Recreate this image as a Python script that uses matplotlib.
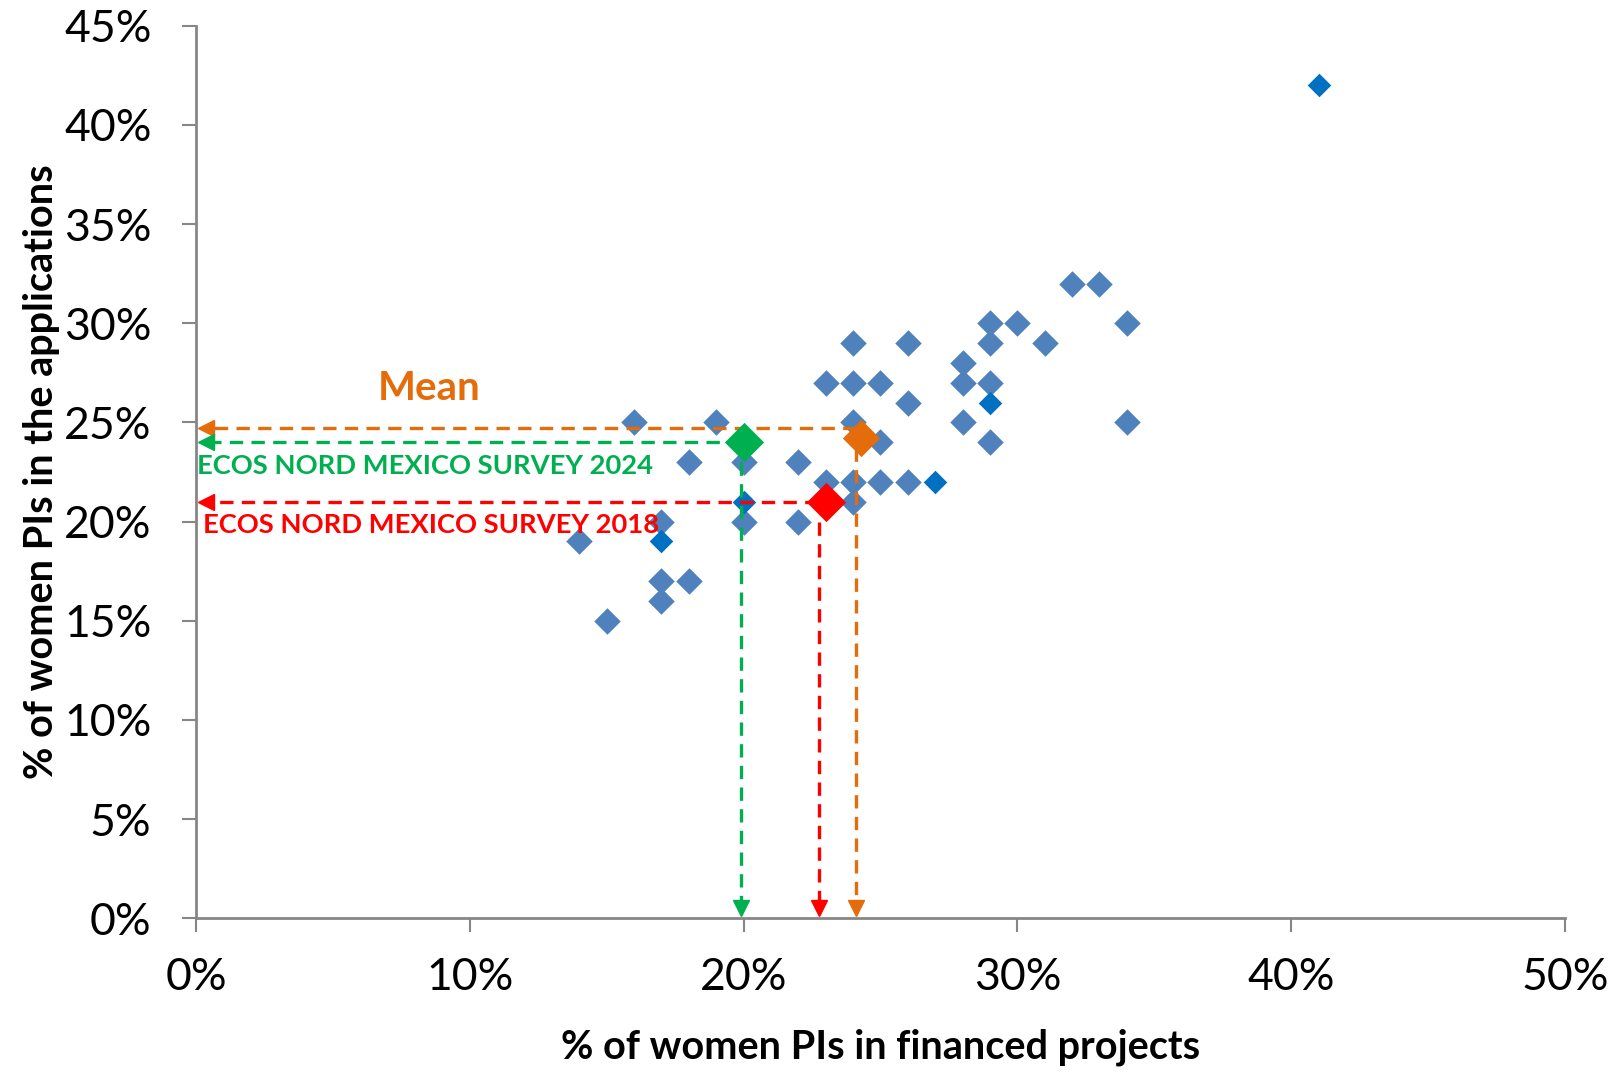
import numpy as np
import matplotlib
matplotlib.use("Agg")
import matplotlib.pyplot as plt
from matplotlib.ticker import FuncFormatter

plt.rcParams['font.family'] = ['Lato', 'DejaVu Sans']

# % women PIs: financed projects (x) vs applications (y)
fin_x = [34, 34, 32, 33, 29, 30, 29, 31, 28, 28, 29, 28, 29, 24, 26, 23, 24, 25, 26,
         24, 25, 16, 19, 18, 20, 22, 20, 22, 23, 24, 25, 26, 24, 17, 14, 17, 18, 17, 15]
app_y = [30, 25, 32, 32, 30, 30, 29, 29, 28, 27, 27, 25, 24, 29, 29, 27, 27, 27, 26,
         25, 24, 25, 25, 23, 23, 23, 20, 20, 22, 22, 22, 22, 21, 20, 19, 17, 17, 16, 15]

# second series (darker blue)
fin_x2 = [41, 29, 20, 27, 17]
app_y2 = [42, 26, 21, 22, 19]

# highlighted points
mean_pt = (24.3, 24.2)
survey_2024 = (20.0, 24.0)
survey_2018 = (23.0, 21.0)
mean_lines = (24.1, 24.7)      # x of vertical, y of horizontal guide
s2024_lines = (19.9, 24.0)
s2018_lines = (22.75, 21.0)

xticks = [0, 10, 20, 30, 40, 50]
yticks = [0, 5, 10, 15, 20, 25, 30, 35, 40, 45]

BLUE = '#4F81BD'
DARK = '#0070C0'
ORANGE = '#E46C0A'
GREEN = '#00B050'
RED = '#FF0000'
AXC = '#868686'

fig = plt.figure(figsize=(16.2, 10.74), dpi=100)
ax = fig.add_axes([0.121, 0.145, 0.845, 0.831])

ax.scatter(fin_x, app_y, marker='D', s=13.5**2, color=BLUE, linewidths=0, zorder=3)
ax.scatter(fin_x2, app_y2, marker='D', s=12**2, color=DARK, linewidths=0, zorder=3)


def guide(xv, yv, x_end, color):
    # horizontal dashed arrow to the y axis, vertical dashed arrow to the x axis
    ax.plot([x_end, 0.45], [yv, yv], ls='--', lw=2.4, color=color, dashes=(4, 2.5), zorder=4)
    ax.plot([0.35], [yv], marker='<', ms=11, color=color, zorder=5, clip_on=False)
    ax.plot([xv, xv], [yv - 1.0, 0.6], ls='--', lw=2.4, color=color, dashes=(4, 2.5), zorder=4)
    ax.plot([xv], [0.5], marker='v', ms=11, color=color, zorder=5)


guide(mean_lines[0], mean_lines[1], 24.1, ORANGE)
guide(s2024_lines[0], s2024_lines[1], 19.9, GREEN)
guide(s2018_lines[0], s2018_lines[1], 22.7, RED)

ax.scatter([mean_pt[0]], [mean_pt[1]], marker='D', s=19**2, color=ORANGE, linewidths=0, zorder=6)
ax.scatter([survey_2024[0]], [survey_2024[1]], marker='D', s=20**2, color=GREEN, linewidths=0, zorder=6)
ax.scatter([survey_2018[0]], [survey_2018[1]], marker='D', s=20**2, color=RED, linewidths=0, zorder=6)

ax.text(8.5, 26.7, 'Mean', color=ORANGE, fontsize=29, fontweight='bold', ha='center', va='center')
ax.text(0.05, 22.8, 'ECOS NORD MEXICO SURVEY 2024', color=GREEN, fontsize=19.7,
        fontweight='bold', ha='left', va='center')
ax.text(0.25, 19.85, 'ECOS NORD MEXICO SURVEY 2018', color=RED, fontsize=19.7,
        fontweight='bold', ha='left', va='center', zorder=7)

ax.set_xlim(0, 50)
ax.set_ylim(0, 45)
ax.set_xticks(xticks)
ax.set_yticks(yticks)
ax.xaxis.set_major_formatter(FuncFormatter(lambda v, p: '%d%%' % v))
ax.yaxis.set_major_formatter(FuncFormatter(lambda v, p: '%d%%' % v))

for s in ['top', 'right']:
    ax.spines[s].set_visible(False)
for s in ['left', 'bottom']:
    ax.spines[s].set_color(AXC)
    ax.spines[s].set_linewidth(2)

ax.tick_params(axis='both', direction='out', length=10, width=1.5, color=AXC,
               labelsize=32)
ax.tick_params(axis='x', pad=18)
ax.tick_params(axis='y', pad=22)

ax.set_xlabel('% of women PIs in financed projects', fontsize=28.5, fontweight='bold', labelpad=22)
ax.set_ylabel('% of women PIs in the applications', fontsize=28.5, fontweight='bold', labelpad=3)

fig.savefig('out.png', dpi=100)
